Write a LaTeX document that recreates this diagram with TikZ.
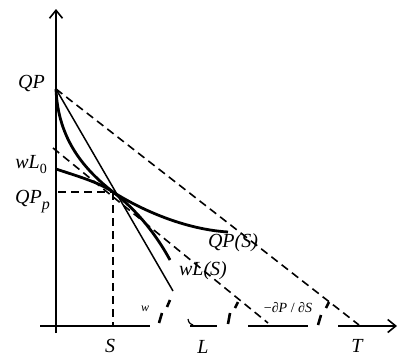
\documentclass[tikz,border=0pt]{standalone}
\usepackage{fontspec}
\setmainfont{Liberation Serif}
\usetikzlibrary{arrows.meta}
\begin{document}
\begin{tikzpicture}[x=1pt,y=-1pt,
  axisline/.style={line width=1.6pt},
  tip/.style={-{Straight Barb[length=8pt,width=13pt,line width=1.6pt]}},
  thinline/.style={line width=1.5pt},
  curveline/.style={line width=2.8pt},
  dsh/.style={line width=1.6pt, dash pattern=on 8pt off 5pt},
  brk/.style={line width=2.6pt},
  lab/.style={font=\fontsize{20}{24}\selectfont\itshape, inner sep=0pt},
  small/.style={font=\fontsize{14}{16}\selectfont, inner sep=0pt},
]
\useasboundingbox (0,0) rectangle (398,356);
% axes
\coordinate (ybot) at (56,333);
\coordinate (ytop) at (56,9);
\coordinate (xa) at (40,326);
\coordinate (xb) at (150,326);
\coordinate (xc) at (190,326);
\coordinate (xd) at (217,326);
\coordinate (xe) at (248,326);
\coordinate (xf) at (308,326);
\coordinate (xg) at (338,326);
\coordinate (xend) at (397,326);
\draw[axisline,tip] (ybot) -- (ytop);
\draw[axisline] (xa) -- (xb);
\draw[axisline] (xc) -- (xd);
\draw[axisline] (xe) -- (xf);
\draw[axisline,tip] (xg) -- (xend);
% break marks
\coordinate (b1a) at (170,300); \coordinate (b1b) at (167,307);
\coordinate (b1c) at (162,313); \coordinate (b1d) at (159,323);
\coordinate (b2a) at (238,302); \coordinate (b2b) at (235,308);
\coordinate (b2c) at (230,313); \coordinate (b2d) at (228,324);
\coordinate (b3a) at (329,302); \coordinate (b3b) at (326,308);
\coordinate (b3c) at (321,315); \coordinate (b3d) at (318,325);
\draw[brk] (b1a) -- (b1b) (b1c) -- (b1d);
\draw[brk] (b2a) -- (b2b) (b2c) -- (b2d);
\draw[brk] (b3a) -- (b3b) (b3c) -- (b3d);
\coordinate (cu1) at (188,319); \coordinate (cu2) at (193,325);
\draw[line width=1.2pt] (cu1) .. controls (189,323) .. (cu2);
% key points
\coordinate (QPpt) at (56,89);
\coordinate (wLpt) at (56,169);
\coordinate (X) at (113,192);
\coordinate (Xaxis) at (113,326);
\coordinate (QPpp) at (58,192);
\coordinate (d1s) at (53,148);
\coordinate (d1e) at (268,323);
\coordinate (Tpt) at (359,325);
\coordinate (lineEnd) at (173,291);
\coordinate (cAend) at (170,260);
\coordinate (cBend) at (228,232);
% dashed lines
\draw[dsh] (QPpt) -- (Tpt);
\draw[dsh] (d1s) -- (d1e);
\draw[dsh] (QPpp) -- (X);
\draw[dsh] (X) -- (Xaxis);
% solid line
\draw[thinline] (QPpt) -- (lineEnd);
% curves
\draw[curveline] (QPpt) .. controls (58,140) and (85,170) .. (X)
  .. controls (138,211) and (157,236) .. (cAend);
\draw[curveline] (wLpt) .. controls (80,177) and (98,182) .. (X)
  .. controls (135,206) and (180,229) .. (cBend);
% labels
\node[lab,anchor=base east] (lQP) at (45,88) {QP};
\node[lab,anchor=base east] (lwL) at (47,168) {wL\raisebox{-5pt}{\fontsize{14}{14}\selectfont\upshape 0}};
\node[lab,anchor=base east] (lQPp) at (50,203) {QP\raisebox{-6pt}{\fontsize{16}{16}\selectfont p}};
\node[lab,anchor=base] (lS) at (110,352) {S};
\node[lab,anchor=base] (lL) at (203,353) {L};
\node[lab,anchor=base] (lT) at (357,352) {T};
\node[lab] (lQPS) at (233,243) {QP(S)};
\node[lab] (lwLS) at (203,271) {wL(S)};
\node[small,font=\fontsize{12}{14}\selectfont\itshape] (lw) at (145,309) {w};
\node[small] (lslope) at (288,308) {−∂\textit{P} / ∂\textit{S}};
\end{tikzpicture}
\end{document}
